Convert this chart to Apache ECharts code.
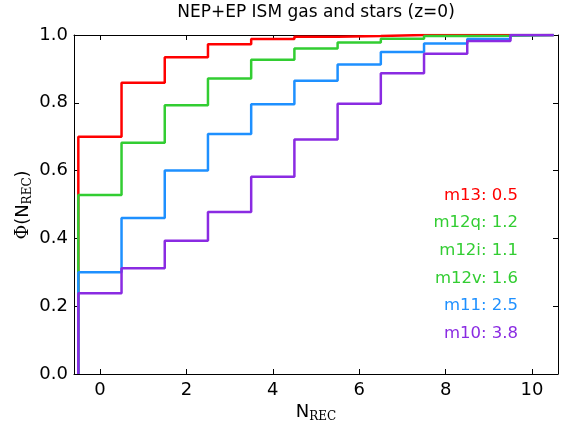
<!DOCTYPE html>
<html><head><meta charset="utf-8">
<script src="https://cdn.jsdelivr.net/npm/echarts@6/dist/echarts.min.js"></script>
<style>html,body{margin:0;padding:0;background:#fff}#c{width:564px;height:423px}</style>
</head><body><div id="c"></div>
<script>
var bins = [0,1,2,3,4,5,6,7,8,9,10];
var m13  = [0.700,0.859,0.934,0.973,0.988,0.995,0.997,1.000,1.000,1.000,1.000];
var m12  = [0.528,0.682,0.793,0.872,0.927,0.960,0.978,0.989,0.997,0.998,1.000];
var m11  = [0.300,0.460,0.600,0.708,0.796,0.865,0.913,0.950,0.975,0.988,1.000];
var m10  = [0.238,0.312,0.393,0.478,0.582,0.692,0.797,0.887,0.945,0.982,1.000];
var xTicks = [0,2,4,6,8,10];
var yTicks = [0,0.2,0.4,0.6,0.8,1.0];
var labels = ['m13: 0.5','m12q: 1.2','m12i: 1.1','m12v: 1.6','m11: 2.5','m10: 3.8'];
var labelColors = ['#ff0000','#32cd32','#32cd32','#32cd32','#1e90ff','#8a2be2'];

function stepData(vals){
  var d = [[bins[0]-0.5, 0]];
  for (var i=0;i<vals.length;i++) d.push([bins[i]+0.5, vals[i]]);
  return d;
}
function mkSeries(vals, color){
  return {type:'line', step:'start', data:stepData(vals), showSymbol:false, symbol:'none',
    lineStyle:{color:color, width:2.5}, itemStyle:{color:color}, animation:false, clip:true};
}
var font = 'DejaVu Sans';
var nameRich = {a:{fontFamily:font,fontSize:18,color:'#000'}, s:{fontFamily:'DejaVu Serif',fontSize:18,color:'#000'}, b:{fontFamily:'DejaVu Serif',fontSize:12,color:'#000',padding:[9,0,0,0]}};
var chart = echarts.init(document.getElementById('c'));
var graphics = [];
for (var i=0;i<labels.length;i++){
  graphics.push({type:'text', x:518, y:187+i*27.6, style:{text:labels[i], fill:labelColors[i], font:'16.5px "DejaVu Sans"', textAlign:'right', textVerticalAlign:'top'}});
}
graphics.push({type:'text', x:316, y:4, style:{text:'NEP+EP ISM gas and stars (z=0)', fill:'#000', font:'17px "DejaVu Sans"', textAlign:'center', textVerticalAlign:'top'}});
graphics.push({type:'text', x:316, y:402, style:{text:'{a|N}{b|REC}', rich:nameRich, textAlign:'center', textVerticalAlign:'top'}});
graphics.push({type:'text', x:23, y:205, rotation:Math.PI/2, style:{text:'{s|Φ}{a|(N}{b|REC}{a|)}', rich:nameRich, textAlign:'center', textVerticalAlign:'middle'}});
var axLine = {show:true, onZero:false, lineStyle:{color:'#000',width:1}};
chart.setOption({
  animation:false,
  backgroundColor:'#fff',
  grid:{left:74, right:6, top:35, bottom:49, outerBoundsMode:'none', containLabel:false},
  xAxis:[{type:'value', min:-0.6, max:10.6, position:'bottom',
    axisLine:axLine,
    axisTick:{show:true,inside:true,length:5,customValues:xTicks,lineStyle:{color:'#000'}},
    axisLabel:{customValues:xTicks,fontFamily:font,fontSize:18,color:'#000',margin:7},
    splitLine:{show:false}},
   {type:'value', min:-0.6, max:10.6, position:'top',
    axisLine:axLine,
    axisTick:{show:true,inside:true,length:5,customValues:xTicks,lineStyle:{color:'#000'}},
    axisLabel:{show:false}, splitLine:{show:false}}],
  yAxis:[{type:'value', min:0, max:1, interval:0.2, position:'left',
    axisLine:axLine,
    axisTick:{show:true,inside:true,length:5,lineStyle:{color:'#000'}},
    axisLabel:{fontFamily:font,fontSize:18,color:'#000',margin:6,formatter:function(v){return v.toFixed(1);}},
    splitLine:{show:false}},
   {type:'value', min:0, max:1, interval:0.2, position:'right',
    axisLine:axLine,
    axisTick:{show:true,inside:true,length:5,lineStyle:{color:'#000'}},
    axisLabel:{show:false}, splitLine:{show:false}}],
  series:[mkSeries(m13,'#ff0000'), mkSeries(m12,'#32cd32'), mkSeries(m11,'#1e90ff'), mkSeries(m10,'#8a2be2')],
  graphic:graphics
});
</script></body></html>
